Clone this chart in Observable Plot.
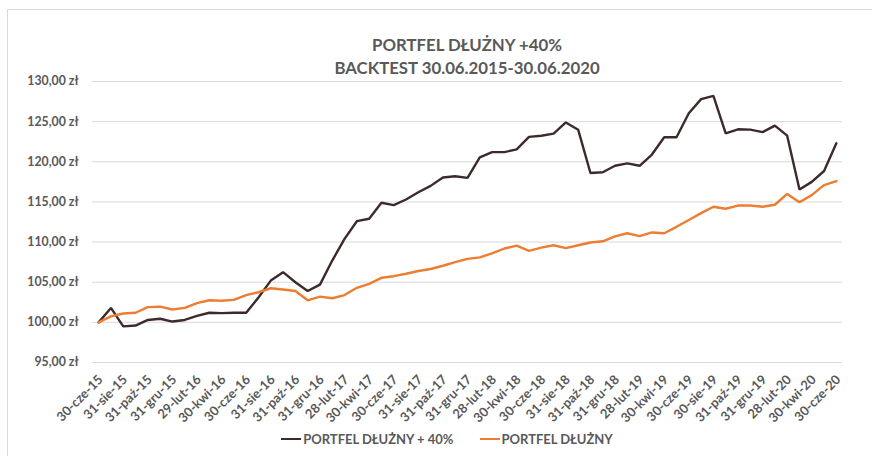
<!DOCTYPE html>
<html>
<head>
<meta charset="utf-8">
<script src="https://cdn.jsdelivr.net/npm/d3@7"></script>
<script src="https://cdn.jsdelivr.net/npm/@observablehq/plot@0.6"></script>
<style>
  html, body { margin: 0; padding: 0; background: #fff; }
  #wrap { position: relative; width: 872px; height: 456px; overflow: hidden; font-family: Lato, "Open Sans", sans-serif; }
  #border { position: absolute; left: 7px; top: 9px; width: 900px; height: 500px; border: 1px solid #d9d9d9; box-sizing: border-box; }
  #title { position: absolute; left: 92px; width: 750px; top: 33px; text-align: center; color: #595959; font-weight: bold; font-size: 16.8px; line-height: 23px; }
  #legend { position: absolute; left: 0; width: 894px; top: 431px; display: flex; justify-content: center; gap: 26px; color: #595959; font-weight: bold; font-size: 13px; }
  .item { display: flex; align-items: center; gap: 2px; }
  .sw { display: inline-block; width: 20px; height: 0; border-top: 2.5px solid; }
  #chart { position: absolute; left: 0; top: 0; }
</style>
</head>
<body>
<div id="wrap">
  <div id="border"></div>
  <div id="chart"></div>
  <div id="title">PORTFEL DŁUŻNY +40%<br>BACKTEST 30.06.2015-30.06.2020</div>
  <div id="legend"></div>
</div>
<script>
const dates = [
  "30-cze-15","31-lip-15","31-sie-15","30-wrz-15","31-paź-15","30-lis-15","31-gru-15",
  "31-sty-16","29-lut-16","31-mar-16","30-kwi-16","31-maj-16","30-cze-16","31-lip-16","31-sie-16","30-wrz-16","31-paź-16","30-lis-16","31-gru-16",
  "31-sty-17","28-lut-17","31-mar-17","30-kwi-17","31-maj-17","30-cze-17","31-lip-17","31-sie-17","30-wrz-17","31-paź-17","30-lis-17","31-gru-17",
  "31-sty-18","28-lut-18","31-mar-18","30-kwi-18","31-maj-18","30-cze-18","31-lip-18","31-sie-18","30-wrz-18","31-paź-18","30-lis-18","31-gru-18",
  "31-sty-19","28-lut-19","31-mar-19","30-kwi-19","31-maj-19","30-cze-19","31-lip-19","30-sie-19","30-wrz-19","31-paź-19","30-lis-19","31-gru-19",
  "31-sty-20","28-lut-20","31-mar-20","30-kwi-20","31-maj-20","30-cze-20"
];
const tickLabels = [
  "30-cze-15","31-sie-15","31-paź-15","31-gru-15","29-lut-16","30-kwi-16","30-cze-16","31-sie-16","31-paź-16","31-gru-16",
  "28-lut-17","30-kwi-17","30-cze-17","31-sie-17","31-paź-17","31-gru-17","28-lut-18","30-kwi-18","30-cze-18","31-sie-18",
  "31-paź-18","31-gru-18","28-lut-19","30-kwi-19","30-cze-19","30-sie-19","31-paź-19","31-gru-19","28-lut-20","30-kwi-20","30-cze-20"
];
const yTicks = [95, 100, 105, 110, 115, 120, 125, 130];
const seriesNames = ["PORTFEL DŁUŻNY + 40%", "PORTFEL DŁUŻNY"];
const seriesColors = ["#3d2b2b", "#ed7d31"];
const leveraged = [
  100.0, 101.8, 99.5, 99.6, 100.3, 100.45, 100.1, 100.3, 100.8, 101.2,
  101.15, 101.2, 101.2, 103.1, 105.2, 106.25, 105.0, 103.9, 104.7, 107.7,
  110.4, 112.6, 112.9, 114.9, 114.6, 115.3, 116.2, 117.0, 118.05, 118.2,
  118.0, 120.55, 121.2, 121.2, 121.55, 123.1, 123.25, 123.5, 124.9, 124.0,
  118.6, 118.7, 119.5, 119.8, 119.5, 120.9, 123.05, 123.05, 126.05, 127.8,
  128.2, 123.55, 124.05, 124.0, 123.7, 124.5, 123.25, 116.55, 117.5, 118.85,
  122.3
];
const base = [
  100.0, 100.75, 101.1, 101.2, 101.9, 101.95, 101.6, 101.8, 102.4, 102.75,
  102.7, 102.8, 103.4, 103.75, 104.25, 104.1, 103.9, 102.75, 103.2, 103.0,
  103.4, 104.3, 104.8, 105.55, 105.75, 106.05, 106.4, 106.65, 107.05, 107.5,
  107.9, 108.1, 108.6, 109.2, 109.55, 108.9, 109.3, 109.6, 109.25, 109.6,
  109.95, 110.1, 110.7, 111.1, 110.75, 111.2, 111.1, 111.9, 112.75, 113.6,
  114.4, 114.15, 114.55, 114.55, 114.4, 114.65, 116.0, 114.95, 115.85, 117.1,
  117.6
];

const data = [];
dates.forEach((d, i) => {
  data.push({date: d, value: leveraged[i], series: seriesNames[0]});
  data.push({date: d, value: base[i], series: seriesNames[1]});
});

const fmt = v => v.toFixed(2).replace(".", ",") + " zł";
const font = "Lato, 'Open Sans', sans-serif";

const chart = Plot.plot({
  width: 872,
  height: 456,
  marginLeft: 92,
  marginRight: 30,
  marginTop: 81,
  marginBottom: 94,
  style: {fontFamily: font, fontSize: "12px", fontWeight: "bold", color: "#595959", background: "transparent", overflow: "visible"},
  x: {type: "point", domain: dates, padding: 0.5, round: false},
  y: {domain: [95, 130]},
  color: {domain: seriesNames, range: seriesColors},
  marks: [
    Plot.gridY(yTicks, {stroke: "#d9d9d9", strokeOpacity: 1, strokeWidth: 1}),
    Plot.axisY(yTicks, {tickSize: 0, tickPadding: 14, tickFormat: fmt, label: null, fill: "#595959", fontSize: 12.3}),
    Plot.axisX(tickLabels, {tickSize: 0, tickPadding: 6, tickRotate: -45, dx: 2, dy: 9, label: null, fill: "#595959", fontSize: 13}),
    Plot.line(data, {x: "date", y: "value", z: "series", stroke: "series", strokeWidth: 2.4, strokeLinejoin: "miter", curve: "linear"})
  ]
});
document.getElementById("chart").appendChild(chart);

const legend = document.getElementById("legend");
seriesNames.forEach((name, i) => {
  const item = document.createElement("div");
  item.className = "item";
  const sw = document.createElement("span");
  sw.className = "sw";
  sw.style.borderTopColor = seriesColors[i];
  const label = document.createElement("span");
  label.textContent = name;
  item.appendChild(sw);
  item.appendChild(label);
  legend.appendChild(item);
});
</script>
</body>
</html>
